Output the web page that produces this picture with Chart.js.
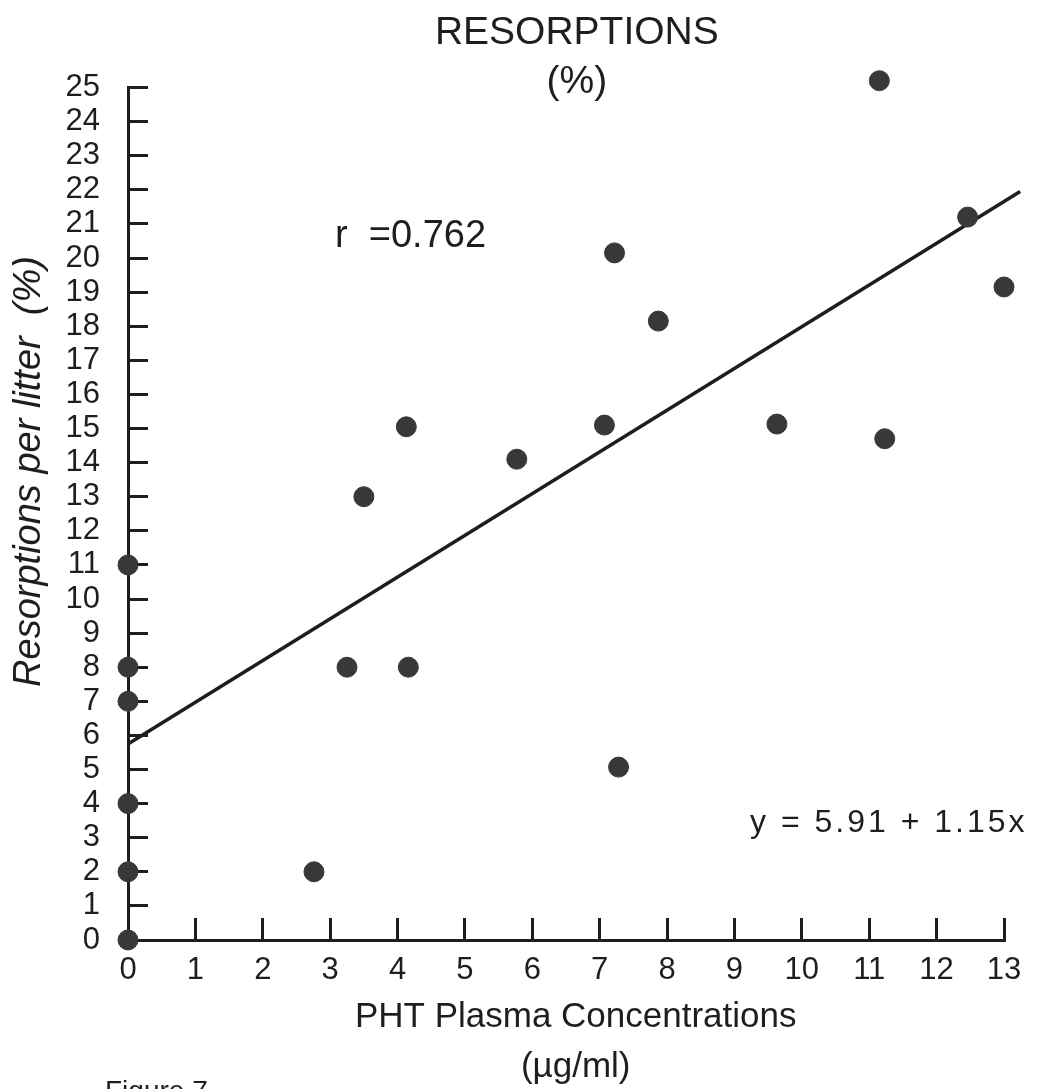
<!DOCTYPE html>
<html>
<head>
<meta charset="utf-8">
<script src="https://cdn.jsdelivr.net/npm/chart.js@4/dist/chart.umd.min.js"></script>
<style>
  html, body { margin: 0; padding: 0; background: #ffffff; }
  #wrap { width: 1045px; height: 1089px; position: relative; }
</style>
</head>
<body>
<div id="wrap"><canvas id="c" width="1045" height="1089"></canvas></div>
<script>
// ---- data ----
const concX = [0, 0, 0, 0, 0, 0, 2.76, 3.25, 3.5, 4.13, 4.16, 5.77, 7.07, 7.22, 7.28, 7.87, 9.63, 11.15, 11.23, 12.46, 13.0];
const resorbY = [0, 2, 4, 7, 8, 11, 2, 8, 13, 15.05, 8, 14.1, 15.1, 20.15, 5.07, 18.15, 15.13, 25.2, 14.7, 21.2, 19.15];
const fitLineX = [0, 13.24];
const fitLineY = [5.75, 21.95];
const titleLines = ['  RESORPTIONS', '  (%)'];
const xTitleLines = ['  PHT Plasma Concentrations', '  (\u00b5g/ml)'];
const yTitleText = '        Resorptions per litter  (%)';
const rText = 'r  =0.762';
const eqText = 'y = 5.91 + 1.15x';
const figText = 'Figure 7';

const ink = '#1e1e1e';
const dotColor = '#383838';

const points = concX.map((x, i) => ({ x: x, y: resorbY[i] }));
const fitPts = fitLineX.map((x, i) => ({ x: x, y: fitLineY[i] }));

const annotPlugin = {
  id: 'annot',
  afterDraw(chart) {
    const ctx = chart.ctx;
    ctx.save();
    ctx.fillStyle = ink;
    ctx.textBaseline = 'alphabetic';
    ctx.textAlign = 'left';
    ctx.font = '38px "Liberation Sans", Arial, sans-serif';
    ctx.fillText(rText, 335, 247);
    ctx.font = '32px "Liberation Sans", Arial, sans-serif';
    try { ctx.letterSpacing = '3px'; } catch (e) {}
    ctx.fillText(eqText, 750, 832);
    try { ctx.letterSpacing = '0px'; } catch (e) {}
    ctx.font = '28px "Liberation Sans", Arial, sans-serif';
    ctx.fillText(figText, 105, 1100);
    ctx.restore();
  }
};

new Chart(document.getElementById('c'), {
  type: 'scatter',
  data: {
    datasets: [
      {
        type: 'line',
        data: fitPts,
        borderColor: ink,
        borderWidth: 3.5,
        pointRadius: 0,
        fill: false,
        clip: false,
        order: 2
      },
      {
        type: 'scatter',
        data: points,
        backgroundColor: dotColor,
        borderColor: dotColor,
        borderWidth: 1,
        pointRadius: 10,
        pointHoverRadius: 10,
        clip: false,
        order: 1
      }
    ]
  },
  options: {
    responsive: false,
    animation: false,
    devicePixelRatio: 1,
    layout: { padding: { left: 0, right: 41, top: 0, bottom: -4 } },
    plugins: {
      legend: { display: false },
      tooltip: { enabled: false },
      title: {
        display: true,
        text: titleLines,
        fullSize: false,
        color: ink,
        font: { family: '"Liberation Sans", Arial, sans-serif', size: 39, weight: 'normal', lineHeight: 1.25 },
        padding: { top: 9, bottom: -19 }
      }
    },
    scales: {
      x: {
        type: 'linear',
        min: 0,
        max: 13,
        afterFit(scale) { scale.height = 153; scale.paddingRight = 0; scale.paddingLeft = 0; },
        border: { display: true, color: ink, width: 3 },
        grid: { drawOnChartArea: false, drawTicks: true, tickLength: -22, color: ink, lineWidth: 3 },
        ticks: {
          stepSize: 1,
          autoSkip: false,
          maxTicksLimit: 100,
          maxRotation: 0,
          padding: 34,
          color: ink,
          font: { family: '"Liberation Sans", Arial, sans-serif', size: 31 }
        },
        title: {
          display: true,
          text: xTitleLines,
          color: ink,
          font: { family: '"Liberation Sans", Arial, sans-serif', size: 35, lineHeight: 1.45 },
          padding: { top: 0, bottom: 0 }
        }
      },
      y: {
        type: 'linear',
        min: 0,
        max: 25,
        afterFit(scale) { scale.width = 128; },
        border: { display: true, color: ink, width: 3 },
        grid: { drawOnChartArea: false, drawTicks: true, tickLength: -20, color: ink, lineWidth: 3 },
        ticks: {
          stepSize: 1,
          autoSkip: false,
          maxTicksLimit: 100,
          padding: 48,
          color: ink,
          font: { family: '"Liberation Sans", Arial, sans-serif', size: 31 }
        },
        title: {
          display: true,
          text: yTitleText,
          color: ink,
          font: { family: '"Liberation Sans", Arial, sans-serif', size: 38, style: 'italic' },
          padding: { top: 7, bottom: 0 }
        }
      }
    }
  },
  plugins: [annotPlugin]
});
</script>
</body>
</html>
